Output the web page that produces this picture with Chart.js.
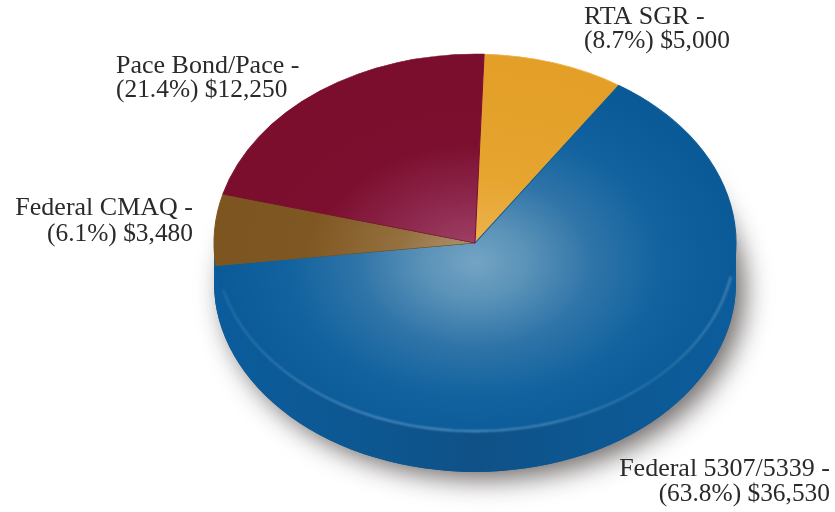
<!DOCTYPE html>
<html>
<head>
<meta charset="utf-8">
<title>Funding sources</title>
<script src="https://cdn.jsdelivr.net/npm/chart.js@4/dist/chart.umd.min.js"></script>
<style>
  html, body { margin: 0; padding: 0; background: #fff; }
  canvas { display: block; }
</style>
</head>
<body>
<canvas id="chart1" width="835" height="512"></canvas>
<script>
const names = ['RTA SGR', 'Federal 5307/5339', 'Federal CMAQ', 'Pace Bond/Pace'];
const shares = ['8.7', '63.8', '6.1', '21.4'];
const amounts = [5000, 36530, 3480, 12250];

// gradient stops per slice, from the centre of the disc outwards
const sliceStops = [
  [[0, '#efb655'], [0.45, '#e6a52f'], [1, '#e39f28']],
  [[0, '#74a4c4'], [0.2, '#5a92b8'], [0.45, '#2f74a8'], [0.72, '#11629f'], [1, '#0a5a98']],
  [[0, '#b69a78'], [0.3, '#95713f'], [0.65, '#7f5722'], [1, '#7c5520']],
  [[0, '#a5496f'], [0.3, '#8f2a50'], [0.62, '#7c0f2f'], [1, '#7a0e2c']]
];
const sliceBorders = ['#f0b348', '#0b5a98', '#7f5722', '#7c0f2f'];

// where the disc sits on the page
const disc = { x: 475, y: 243, rx: 261, ry: 189, depth: 40 };

// label anchors: [x, baseline of first line, line step, alignment]
const labelSpots = [
  [584, 24, 24, 'left'],
  [830, 476, 25, 'right'],
  [193, 215, 26, 'right'],
  [116, 73, 24, 'left']
];

function sliceColor(c) {
  const area = c.chart.chartArea;
  if (!area) return sliceStops[c.dataIndex][0][1];
  const cx = (area.left + area.right) / 2;
  const cy = (area.top + area.bottom) / 2;
  const R = Math.min(area.width, area.height) / 2;
  const g = c.chart.ctx.createRadialGradient(cx, cy + R * 0.1, 0, cx, cy + R * 0.1, R);
  sliceStops[c.dataIndex].forEach(s => g.addColorStop(s[0], s[1]));
  return g;
}

function squash(ctx, arc) {
  const R = arc.outerRadius;
  ctx.translate(disc.x, disc.y);
  ctx.scale(disc.rx / R, disc.ry / R);
  ctx.translate(-arc.x, -arc.y);
}

const tiltPlugin = {
  id: 'tilt',
  beforeDatasetsDraw(chart) {
    const ctx = chart.ctx;
    const arc = chart.getDatasetMeta(0).data[0];
    const R = arc.outerRadius;

    // soft shadow under the disc
    ctx.save();
    ctx.shadowColor = 'rgba(40,30,30,0.65)';
    ctx.shadowBlur = 26;
    ctx.shadowOffsetX = 9;
    ctx.shadowOffsetY = 8;
    ctx.fillStyle = '#0e5790';
    ctx.beginPath();
    ctx.ellipse(disc.x, disc.y + disc.depth, disc.rx, disc.ry, 0, 0, Math.PI * 2);
    ctx.fill();
    ctx.restore();

    // side wall
    ctx.save();
    squash(ctx, arc);
    const side = ctx.createLinearGradient(arc.x - R, 0, arc.x + R, 0);
    side.addColorStop(0, '#0b5c9c');
    side.addColorStop(0.3, '#0d5791');
    side.addColorStop(0.5, '#0f5187');
    side.addColorStop(0.7, '#0d5791');
    side.addColorStop(1, '#0c5c9c');
    const drop = disc.depth * R / disc.ry;
    ctx.fillStyle = side;
    ctx.beginPath();
    ctx.arc(arc.x, arc.y + drop, R, 0, Math.PI * 2);
    ctx.fill();
    ctx.fillRect(arc.x - R, arc.y, R * 2, drop);
    ctx.restore();

    // stays open until afterDatasetsDraw, so the slices are tilted too
    ctx.save();
    squash(ctx, arc);
  },
  afterDatasetsDraw(chart) {
    const ctx = chart.ctx;
    const arc = chart.getDatasetMeta(0).data[0];
    const R = arc.outerRadius;

    // pale highlight along the front rim
    const rim = ctx.createLinearGradient(arc.x - R, 0, arc.x + R, 0);
    rim.addColorStop(0, 'rgba(130,180,215,0.2)');
    rim.addColorStop(0.3, 'rgba(140,185,220,0.7)');
    rim.addColorStop(0.55, 'rgba(140,185,220,0.75)');
    rim.addColorStop(0.85, 'rgba(130,180,215,0.25)');
    rim.addColorStop(1, 'rgba(130,180,215,0.55)');
    ctx.filter = 'blur(1px)';
    ctx.strokeStyle = rim;
    ctx.lineWidth = 2;
    ctx.beginPath();
    ctx.arc(arc.x, arc.y, R - 1, 0.18, Math.PI - 0.25);
    ctx.stroke();
    ctx.filter = 'none';
    ctx.restore();
  },
  afterDraw(chart) {
    const ctx = chart.ctx;
    ctx.save();
    ctx.fillStyle = '#2b2a2a';
    names.forEach((name, i) => {
      const spot = labelSpots[i];
      ctx.textAlign = spot[3];
      ctx.font = '26px "Liberation Serif"';
      ctx.fillText(name + ' -', spot[0], spot[1]);
      ctx.font = '25.4px "Liberation Serif"';
      ctx.fillText('(' + shares[i] + '%) $' + amounts[i].toLocaleString('en-US'), spot[0], spot[1] + spot[2]);
    });
    ctx.restore();
  }
};

new Chart(document.getElementById('chart1'), {
  type: 'pie',
  data: {
    labels: names,
    datasets: [{
      data: amounts,
      backgroundColor: sliceColor,
      borderColor: sliceBorders,
      borderWidth: 1,
      clip: false
    }]
  },
  options: {
    responsive: false,
    animation: false,
    events: [],
    rotation: 2,
    layout: { padding: 0 },
    plugins: { legend: { display: false }, tooltip: { enabled: false } }
  },
  plugins: [tiltPlugin]
});
</script>
</body>
</html>
